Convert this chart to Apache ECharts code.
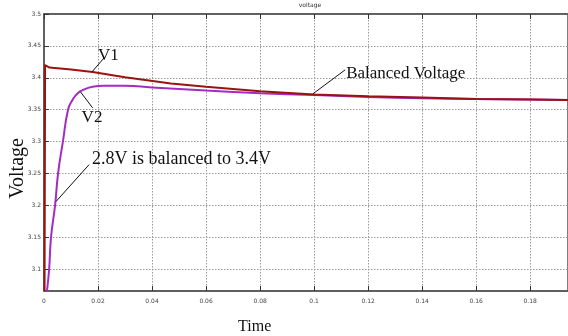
<!DOCTYPE html>
<html><head><meta charset="utf-8">
<script src="https://cdn.jsdelivr.net/npm/echarts@6/dist/echarts.min.js"></script>
<style>html,body{margin:0;padding:0;background:#fff}#c{width:568px;height:336px}</style>
</head><body><div id="c"></div>
<script>
// time (s) and voltage (V)
var v1Time = [0.0002, 0.0004, 0.002, 0.01, 0.018, 0.03, 0.047, 0.06, 0.08, 0.1, 0.12, 0.14, 0.16, 0.18, 0.195];
var v1Volt = [3.066, 3.420, 3.416, 3.413, 3.409, 3.401, 3.391, 3.386, 3.379, 3.374, 3.371, 3.369, 3.367, 3.366, 3.365];
var v2Time = [0.0011, 0.0019, 0.0026, 0.0041, 0.0052, 0.0070, 0.0089, 0.0105, 0.0125, 0.015, 0.018, 0.022, 0.03, 0.04, 0.06, 0.08, 0.1, 0.12, 0.14, 0.16, 0.18, 0.195];
var v2Volt = [3.066, 3.100, 3.150, 3.200, 3.250, 3.300, 3.350, 3.365, 3.376, 3.382, 3.386, 3.3875, 3.3875, 3.385, 3.380, 3.376, 3.373, 3.370, 3.368, 3.367, 3.366, 3.365];
var yTicks = [3.1, 3.15, 3.2, 3.25, 3.3, 3.35, 3.4, 3.45, 3.5];
var yTickLabels = ['3.1', '3.15', '3.2', '3.25', '3.3', '3.35', '3.4', '3.45', '3.5'];
// annotations: text, anchor on curve (t,v), text end of leader (t,v), text offset
var notes = [
  {text: 'V1', from: [0.0177, 3.409], to: [0.0222, 3.431], dx: -6, dy: -3, size: 17},
  {text: 'V2', from: [0.0135, 3.378], to: [0.018, 3.353], dx: -11, dy: 10, size: 17},
  {text: '2.8V is balanced to 3.4V', from: [0.0044, 3.206], to: [0.0167, 3.264], dx: 3, dy: -5, size: 18},
  {text: 'Balanced Voltage', from: [0.0996, 3.375], to: [0.1115, 3.4125], dx: 1, dy: 4, size: 17}
];

function pairs(a, b){ return a.map(function(x,i){ return [x, b[i]]; }); }

var chart = echarts.init(document.getElementById('c'), null, {renderer: 'canvas'});
var gridLine = {show: true, lineStyle: {color: '#9a9a9a', type: [1.5, 1.5], width: 1}};
var tickFont = {fontSize: 6, color: '#444', fontFamily: 'DejaVu Sans'};
chart.setOption({
  animation: false,
  title: {text: 'voltage', left: 310, top: 2, padding: 0, textAlign: 'center', textStyle: {fontSize: 6, fontWeight: 'normal', color: '#333', fontFamily: 'DejaVu Sans'}},
  grid: {left: 44, top: 14, right: 0, bottom: 45, outerBoundsMode: 'none', containLabel: false, show: true, borderColor: '#555', borderWidth: 1.5, backgroundColor: '#fff'},
  xAxis: [{
    type: 'value', min: 0, max: 0.194, interval: 0.02,
    axisLine: {show: true, lineStyle: {color: '#555', width: 1.5}},
    axisTick: {show: true, inside: true, length: 5, lineStyle: {color: '#333'}},
    axisLabel: Object.assign({margin: 7, showMaxLabel: false, formatter: function(v){ return String(+v.toFixed(2)); }}, tickFont),
    splitLine: gridLine
  }, {
    type: 'value', position: 'top', min: 0, max: 0.194, interval: 0.02,
    axisLine: {show: true, lineStyle: {color: '#555', width: 1.5}},
    axisTick: {show: true, inside: true, length: 5, lineStyle: {color: '#333'}},
    axisLabel: {show: false},
    splitLine: {show: false}
  }],
  yAxis: {
    type: 'value', min: 3.066, max: 3.5,
    axisLine: {show: true, lineStyle: {color: '#555', width: 1.5}},
    axisTick: {show: true, inside: true, length: 5, lineStyle: {color: '#333'}, customValues: yTicks},
    axisLabel: Object.assign({margin: 3, customValues: yTicks, formatter: function(v){ var i = yTicks.indexOf(+v.toFixed(2)); return i >= 0 ? yTickLabels[i] : ''; }}, tickFont),
    splitLine: gridLine
  },
  series: [
    {name: 'V1', type: 'line', data: pairs(v1Time, v1Volt), showSymbol: false, smooth: false, lineStyle: {color: '#9b1212', width: 2}, itemStyle: {color: '#9b1212'}, z: 3},
    {name: 'V2', type: 'line', data: pairs(v2Time, v2Volt), showSymbol: false, smooth: 0.5, lineStyle: {color: '#a42bc4', width: 2}, itemStyle: {color: '#a42bc4'}, z: 2}
  ]
});

var g = [];
notes.forEach(function(n){
  var p1 = chart.convertToPixel({gridIndex: 0}, n.from);
  var p2 = chart.convertToPixel({gridIndex: 0}, n.to);
  g.push({type: 'line', shape: {x1: p1[0], y1: p1[1], x2: p2[0], y2: p2[1]}, style: {stroke: '#111', lineWidth: 1}, z: 10});
  g.push({type: 'text', x: p2[0] + n.dx, y: p2[1] + n.dy, style: {text: n.text, fill: '#111', font: n.size + 'px "Liberation Serif"', textAlign: 'left', textVerticalAlign: 'middle'}, z: 10});
});
// axis names
var tPos = chart.convertToPixel({gridIndex: 0}, [0.078, 3.066]);
g.push({type: 'text', x: tPos[0], y: tPos[1] + 36, style: {text: 'Time', fill: '#111', font: '16px "Liberation Serif"', textAlign: 'center', textVerticalAlign: 'middle'}, z: 10});
var vPos = chart.convertToPixel({gridIndex: 0}, [0, 3.258]);
g.push({type: 'text', x: 18, y: vPos[1], rotation: Math.PI / 2, style: {text: 'Voltage', fill: '#111', font: '20px "Liberation Serif"', textAlign: 'center', textVerticalAlign: 'middle'}, z: 10});
chart.setOption({graphic: g});
</script>
</body></html>
